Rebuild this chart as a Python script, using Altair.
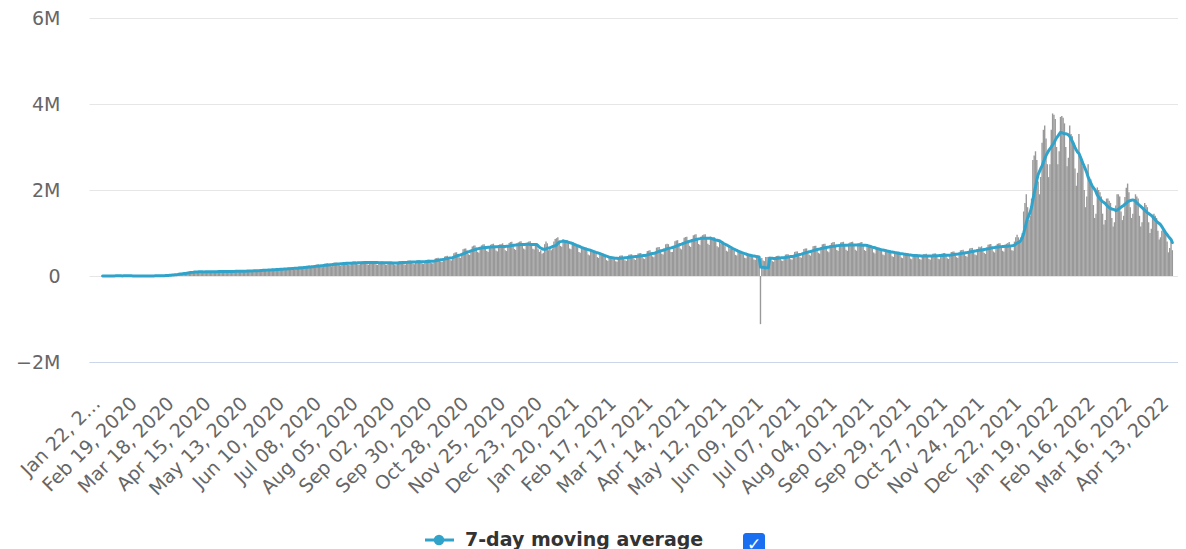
import altair as alt
import pandas as pd

# ---------------- data (values in thousands of cases) ----------------
start_date = "2020-01-22"

daily_cases_k = [
    0.6, 0.1, 0.3, 0.5, 0.7, 0.8, 1.7,
    1.5, 1.7, 2.0, 2.1, 2.6, 2.8, 3.2,
    3.7, 3.7, 3.2, 2.6, 2.7, 3.0, 2.0,
    0.4, 15.1, 6.5, 2.1, 2.6, 2.0, 1.9,
    0.5, 0.6, 1.0, 0.4, 0.9, 0.7, 0.9,
    1.0, 1.3, 1.8, 1.7, 2.0, 1.9, 2.3,
    2.3, 2.8, 3.9, 3.8, 3.9, 4.3, 4.6,
    7.3, 7.4, 9.6, 12.0, 12.9, 14.6, 16.0,
    19, 26, 29, 31, 33, 37, 41,
    50, 62, 63, 61, 57, 62, 68,
    88, 95, 100, 94, 85, 88, 102,
    100, 102, 104, 96, 85, 84, 100,
    108, 110, 112, 100, 88, 85, 102,
    110, 112, 114, 104, 90, 88, 104,
    112, 116, 116, 106, 92, 90, 108,
    118, 120, 122, 112, 95, 92, 112,
    122, 126, 128, 118, 100, 98, 118,
    132, 136, 138, 126, 108, 104, 126,
    148, 152, 154, 140, 120, 116, 140,
    160, 164, 168, 154, 130, 126, 154,
    174, 178, 182, 166, 142, 138, 168,
    190, 196, 200, 182, 156, 150, 184,
    212, 216, 220, 200, 172, 166, 204,
    234, 240, 244, 222, 190, 184, 226,
    260, 266, 270, 246, 210, 204, 250,
    286, 292, 296, 270, 232, 224, 274,
    306, 312, 316, 290, 248, 240, 294,
    318, 326, 330, 302, 258, 250, 306,
    330, 338, 340, 312, 266, 258, 316,
    336, 344, 346, 318, 272, 262, 322,
    334, 340, 342, 314, 268, 258, 318,
    330, 336, 338, 310, 264, 256, 314,
    326, 332, 334, 306, 262, 252, 310,
    340, 348, 350, 320, 272, 264, 324,
    352, 360, 362, 332, 282, 274, 336,
    358, 366, 368, 338, 288, 278, 342,
    370, 380, 384, 352, 300, 290, 358,
    410, 420, 426, 392, 336, 324, 400,
    452, 464, 470, 434, 372, 360, 444,
    530, 546, 552, 510, 436, 420, 520,
    620, 636, 640, 592, 506, 488, 604,
    686, 706, 712, 660, 562, 542, 670,
    712, 730, 736, 680, 582, 560, 692,
    728, 746, 752, 696, 594, 572, 708,
    736, 740, 760, 700, 600, 580, 716,
    770, 790, 796, 736, 628, 606, 750,
    782, 800, 808, 746, 638, 616, 762,
    780, 800, 806, 744, 636, 614, 760,
    760, 620, 560, 600, 520, 540, 740,
    800, 760, 600, 660, 600, 640, 800,
    860, 880, 900, 820, 700, 680, 850,
    820, 840, 840, 760, 640, 620, 780,
    730, 740, 740, 670, 560, 540, 690,
    650, 660, 660, 600, 500, 480, 610,
    570, 580, 580, 520, 440, 420, 540,
    480, 490, 490, 440, 370, 350, 450,
    440, 450, 450, 410, 345, 330, 420,
    470, 475, 478, 432, 365, 350, 445,
    495, 500, 505, 458, 388, 372, 470,
    525, 530, 535, 485, 410, 394, 500,
    580, 590, 596, 540, 456, 438, 556,
    660, 670, 676, 612, 520, 500, 630,
    740, 750, 740, 660, 560, 560, 700,
    810, 826, 834, 756, 640, 618, 786,
    890, 906, 914, 828, 702, 676, 860,
    946, 962, 970, 880, 746, 720, 914,
    950, 966, 972, 882, 748, 722, 916,
    880, 896, 900, 816, 692, 668, 848,
    748, 760, 766, 694, 588, 568, 720,
    626, 636, 640, 580, 492, 476, 604,
    540, 550, 552, 500, 424, 410, 520,
    488, 496, 498, 452, 384, 370, 470,
    450, 456, -1120, 420, 360, 346, 440,
    440, 446, 448, 406, 344, 332, 424,
    464, 470, 472, 428, 362, 350, 446,
    498, 506, 508, 460, 390, 376, 480,
    560, 568, 572, 518, 438, 422, 540,
    628, 638, 642, 580, 492, 474, 606,
    690, 700, 706, 638, 540, 520, 666,
    736, 746, 752, 680, 576, 554, 710,
    770, 782, 788, 712, 604, 580, 744,
    778, 790, 796, 720, 610, 586, 752,
    780, 792, 798, 722, 612, 588, 754,
    770, 782, 788, 712, 604, 580, 744,
    700, 710, 716, 646, 548, 526, 676,
    640, 650, 654, 592, 502, 482, 618,
    592, 600, 604, 546, 462, 444, 570,
    552, 560, 564, 510, 432, 416, 532,
    520, 528, 530, 480, 406, 392, 500,
    504, 512, 514, 466, 394, 380, 486,
    506, 510, 516, 464, 396, 378, 488,
    516, 522, 526, 476, 404, 390, 498,
    526, 534, 536, 486, 412, 396, 508,
    558, 566, 570, 516, 438, 420, 540,
    596, 606, 610, 552, 468, 450, 578,
    640, 650, 654, 592, 502, 482, 620,
    682, 670, 690, 630, 534, 514, 660,
    726, 736, 742, 672, 570, 548, 702,
    748, 758, 764, 692, 586, 564, 724,
    750, 770, 790, 720, 600, 590, 800,
    900, 960, 900, 800, 900, 1000, 1500,
    1700, 1900, 1600, 1300, 1400, 1800, 2700,
    2800, 2900, 2700, 2200, 1900, 2300, 3100,
    3400, 3500, 3200, 2600, 2300, 2600, 3400,
    3780, 3750, 3650, 3000, 2600, 2900, 3700,
    3720, 3680, 3550, 3000, 2550, 2750, 3500,
    3300, 3250, 3100, 2500, 2100, 2400, 3300,
    2800, 2700, 2550, 2000, 1600, 1850, 2600,
    2300, 2250, 2100, 1650, 1350, 1450, 2060,
    2000, 1950, 1850, 1450, 1200, 1300, 1800,
    1800, 1750, 1700, 1350, 1150, 1250, 1640,
    1900, 1900, 1850, 1500, 1300, 1400, 1840,
    2050, 2150, 1950, 1600, 1350, 1450, 1770,
    1900, 1850, 1800, 1400, 1150, 1250, 1570,
    1700, 1650, 1600, 1250, 1000, 1100, 1360,
    1450, 1400, 1350, 1050, 850, 900, 1050,
    1100, 1050, 1000, 800, 550, 650, 800,
    600,
]

tick_dates = [
    "2020-01-22", "2020-02-19", "2020-03-18", "2020-04-15", "2020-05-13",
    "2020-06-10", "2020-07-08", "2020-08-05", "2020-09-02", "2020-09-30",
    "2020-10-28", "2020-11-25", "2020-12-23", "2021-01-20", "2021-02-17",
    "2021-03-17", "2021-04-14", "2021-05-12", "2021-06-09", "2021-07-07",
    "2021-08-04", "2021-09-01", "2021-09-29", "2021-10-27", "2021-11-24",
    "2021-12-22", "2022-01-19", "2022-02-16", "2022-03-16", "2022-04-13",
]
y_ticks_k = [-2000, 0, 2000, 4000, 6000]
legend_label = "7-day moving average"

# ---------------- styling ----------------
FONT = "DejaVu Sans"
BAR_COLOR = "#999999"
LINE_COLOR = "#30a3cb"
LABEL_COLOR = "#666666"

def ms(ts):
    return int(pd.Timestamp(ts, tz="UTC").timestamp() * 1000)

dates = pd.date_range(start_date, periods=len(daily_cases_k), freq="D")
df = pd.DataFrame({
    "t": [ms(d.strftime("%Y-%m-%d") + " 12:00") for d in dates],
    "cases": daily_cases_k,
})

x_domain = [ms(start_date), ms((dates[-1] + pd.Timedelta(days=1)).strftime("%Y-%m-%d"))]
tick_ms = [ms(d + " 12:00") for d in tick_dates]

x_axis = alt.Axis(
    values=tick_ms,
    labelExpr="datum.index == 0 ? 'Jan 22, 2…' : utcFormat(datum.value, '%b %d, %Y')",
    labelAngle=315,
    labelAlign="right",
    labelBaseline="middle",
    labelPadding=38,
    labelOffset=2,
    labelFont=FONT,
    labelFontSize=19,
    labelColor=LABEL_COLOR,
    labelOverlap=False,
    labelSeparation=0,
    labelFlush=False,
    labelBound=False,
    ticks=False,
    grid=False,
    domainColor="#ccd6eb",
    domainWidth=1,
    title=None,
)
x_scale = alt.Scale(type="utc", domain=x_domain)

y_axis = alt.Axis(
    values=y_ticks_k,
    labelExpr="datum.value == 0 ? '0' : (datum.value < 0 ? '−' : '') + format(abs(datum.value) / 1000, 'd') + 'M'",
    grid=True,
    gridColor="#e6e6e6",
    gridWidth=1,
    domain=False,
    ticks=False,
    labelPadding=29,
    labelFont=FONT,
    labelFontSize=19,
    labelColor=LABEL_COLOR,
    title=None,
)
y_scale = alt.Scale(domain=[-2000, 6000], nice=False, zero=False)

base = alt.Chart(df)

bars = base.mark_bar(color=BAR_COLOR, size=1.4).encode(
    x=alt.X("t:T", scale=x_scale, axis=x_axis),
    y=alt.Y("cases:Q", scale=y_scale, axis=y_axis),
)

line = (
    base.transform_window(
        ma="mean(cases)", rn="row_number()", frame=[-6, 0],
        sort=[alt.SortField("t", order="ascending")],
    )
    .transform_filter("datum.rn >= 7")
    .mark_line(color=LINE_COLOR, strokeWidth=3, strokeJoin="round", strokeCap="round")
    .encode(
        x=alt.X("t:T", scale=x_scale, axis=x_axis),
        y=alt.Y("ma:Q", scale=y_scale, axis=y_axis),
    )
)

one = alt.Chart(pd.DataFrame({"k": [0]}))
leg_rule = one.mark_rule(color=LINE_COLOR, strokeWidth=3).encode(
    x=alt.value(336), x2=alt.value(365), y=alt.value(522))
leg_point = one.mark_point(filled=True, shape="circle", size=110, color=LINE_COLOR, opacity=1).encode(
    x=alt.value(350), y=alt.value(522))
leg_text = one.mark_text(text=legend_label, align="left", baseline="middle", font=FONT,
                         fontSize=19, fontWeight="bold", color="#333333").encode(
    x=alt.value(376), y=alt.value(522))
cb_rect = one.mark_rect(color="#1a6ff0", cornerRadius=3).encode(
    x=alt.value(654), x2=alt.value(676), y=alt.value(515), y2=alt.value(537))
cb_text = one.mark_text(text="✓", align="center", baseline="middle", font=FONT,
                        fontSize=17, fontWeight="bold", color="white").encode(
    x=alt.value(665), y=alt.value(527))

chart = (
    alt.layer(bars, line, leg_rule, leg_point, leg_text, cb_rect, cb_text)
    .properties(
        width=1089, height=344,
        padding={"left": 81, "top": 10, "right": 0, "bottom": 200},
        autosize=alt.AutoSizeParams(type="none"),
    )
    .configure_view(stroke=None)
    .configure_axis(labelOverlap=False)
)

chart.save("out.html", embed_options={"renderer": "svg", "actions": False})
